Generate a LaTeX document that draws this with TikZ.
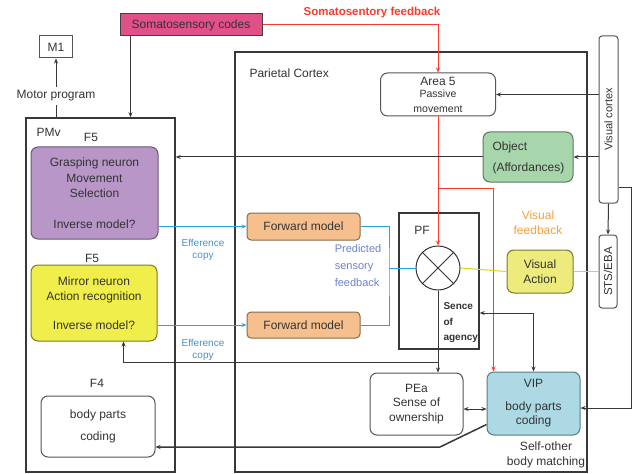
\documentclass[tikz,border=0pt]{standalone}
\usepackage{fontspec}
\setmainfont{Liberation Sans}
\usetikzlibrary{arrows.meta,calc}
\definecolor{txt}{HTML}{333333}
\definecolor{boxline}{HTML}{555555}
\definecolor{somafill}{HTML}{E2508A}
\definecolor{purplefill}{HTML}{B896C8}
\definecolor{purpleline}{HTML}{6A5A75}
\definecolor{yellowfill}{HTML}{F0EE4A}
\definecolor{yellowline}{HTML}{7A7A30}
\definecolor{greenfill}{HTML}{A8D6AC}
\definecolor{greenline}{HTML}{5B7A5B}
\definecolor{orangefill}{HTML}{F6C08E}
\definecolor{orangeline}{HTML}{8A6A4A}
\definecolor{vafill}{HTML}{ECEB7C}
\definecolor{vipfill}{HTML}{ACD9E3}
\definecolor{vipline}{HTML}{5A7A80}
\definecolor{redline}{HTML}{FF3A2A}
\definecolor{blueline}{HTML}{2AA2DD}
\definecolor{efftext}{HTML}{4A90D0}
\definecolor{predtext}{HTML}{6F80D0}
\definecolor{vftext}{HTML}{F5A040}
\definecolor{yline}{HTML}{D8D818}
\tikzset{
  every node/.style={font=\fontsize{12}{14.5}\selectfont, text=txt},
  rbox/.style={draw=boxline, line width=1pt, rounded corners=7pt, inner sep=1pt, align=center},
  sbox/.style={draw=boxline, line width=1pt, inner sep=1pt, align=center},
  frame/.style={draw=black!78, line width=1.4pt, inner sep=0pt},
  conn/.style={draw=black!78, line width=1pt},
  arr/.style={conn, -{Stealth[length=5pt,width=4pt]}},
  arrboth/.style={conn, {Stealth[length=5pt,width=4pt]}-{Stealth[length=5pt,width=4pt]}},
  redc/.style={draw=redline, line width=1pt},
  redarr/.style={redc, -{Stealth[length=5pt,width=4pt]}},
  bluec/.style={draw=blueline, line width=1pt},
  bluearr/.style={bluec, -{Stealth[length=5pt,width=4pt]}},
  yellowc/.style={draw=yline, line width=1pt},
  small/.style={font=\fontsize{10}{12}\selectfont},
}
\begin{document}
\begin{tikzpicture}[x=1pt,y=-1pt]
\fill[white] (0,0) rectangle (636,473);
\useasboundingbox (0,0) rectangle (636,473);

% frames
\node[frame, minimum width=149pt, minimum height=354pt] (pmv) at (100.5,295) {};
\node[frame, minimum width=352pt, minimum height=420pt] (par) at (411,262) {};
\node[anchor=west] (partxt) at (246,73) {Parietal Cortex};
\node[anchor=west] (pmvtxt) at (33,132) {PMv};

% top
\node[sbox, fill=somafill, draw=black!75, minimum width=142pt, minimum height=22pt] (soma) at (191,25) {Somatosensory codes};
\node[font=\bfseries\fontsize{11.5}{13}\selectfont, text=redline] (sfb) at (372,13) {Somatosentory feedback};
\node[sbox, minimum width=33pt, minimum height=22pt] (m1) at (56,47) {M1};
\node (mp) at (56,96) {Motor program};

% PMv content
\node (f5a) at (91,137) {F5};
\node[rbox, fill=purplefill, draw=purpleline, minimum width=127pt, minimum height=92pt, font=\fontsize{12}{15.5}\selectfont] (grasp) at (94.5,193)
  {Grasping neuron\\Movement\\Selection\\[15pt]Inverse model?};
\node (f5b) at (92,258) {F5};
\node[rbox, fill=yellowfill, draw=yellowline, minimum width=126pt, minimum height=76pt, font=\fontsize{12}{15}\selectfont] (mirror) at (94,303)
  {Mirror neuron\\Action recognition\\[14pt]Inverse model?};
\node (f4) at (97,383) {F4};
\node[rbox, minimum width=114pt, minimum height=61pt] (f4box) at (98,426.5) {body parts\\[7pt]coding};

% efference labels
\node[small, text=efftext, align=center] (eff1) at (203,250) {Efference\\copy};
\node[small, text=efftext, align=center] (eff2) at (203,350) {Efference\\copy};

% forward models
\node[rbox, rounded corners=4pt, fill=orangefill, draw=orangeline, minimum width=113pt, minimum height=27pt] (fm1) at (303.5,226.5) {Forward model};
\node[rbox, rounded corners=4pt, fill=orangefill, draw=orangeline, minimum width=113pt, minimum height=26pt] (fm2) at (303.5,325) {Forward model};
\node[text=predtext, align=left, font=\fontsize{11}{17}\selectfont] (pred) at (358,266) {Predicted\\sensory\\feedback};

% area 5
\node[rbox, minimum width=115pt, minimum height=43pt] (area5) at (438,94.5)
  {Area 5\\[-2pt]{\fontsize{10.5}{12}\selectfont Passive}\\[0pt]{\fontsize{10.5}{12}\selectfont movement}};

% right column
\node[sbox, rounded corners=3pt, minimum width=19pt, minimum height=167pt] (vc) at (608.5,119.5) {};
\node[rotate=90, font=\fontsize{11}{13}\selectfont] (vctxt) at (vc) {Visual cortex};
\node[sbox, rounded corners=3pt, minimum width=18pt, minimum height=73pt] (sts) at (608,271.5) {};
\node[rotate=90, font=\fontsize{11.5}{13}\selectfont] (ststxt) at (sts) {STS/EBA};

\node[rbox, fill=greenfill, draw=greenline, minimum width=90pt, minimum height=50pt] (obj) at (528,157) {};
\node[anchor=west, align=left] (objtxt) at (489,158) {Object\\[6pt](Affordances)};

\node[text=vftext, align=center, font=\fontsize{12}{15}\selectfont] (vfb) at (538,223) {Visual\\feedback};
\node[rbox, fill=vafill, draw=yellowline, minimum width=66pt, minimum height=43pt] (va) at (540,271.5) {Visual\\Action};

% PF
\node[frame, minimum width=80pt, minimum height=136pt] (pf) at (439,281) {};
\node (pftxt) at (422,230) {PF};
\node[circle, draw=black!80, line width=1pt, minimum size=44pt, inner sep=0pt] (cmp) at (438,268) {};
\draw[black!80, line width=1pt] (cmp.north west) -- (cmp.south east) (cmp.north east) -- (cmp.south west);
\node[anchor=west, align=left, font=\bfseries\fontsize{10}{15.5}\selectfont] (agency) at (440,323) {Sence\\of\\agency};

% PEa and VIP
\node[rbox, minimum width=93pt, minimum height=62pt] (pea) at (416.5,404) {PEa\\Sense of\\ownership};
\node[rbox, fill=vipfill, draw=vipline, minimum width=93pt, minimum height=63pt] (vip) at (533.5,403.5) {VIP\\[8pt]body parts\\coding};
\node[align=center] (selfo) at (546,455) {Self-other\\body matching};

% ---- connectors ----
\draw[arr] (mp.north) -- (m1.south);
\draw[conn] (pmv.north -| mp.south) -- (mp.south);
\draw[arr] ([xshift=11pt]soma.south west) -- ([xshift=11pt]soma.south west |- pmv.north);
\draw[redarr] (soma.east) -| (area5.north);
\draw[redarr] (area5.south) -- (cmp.north);
\coordinate (rb) at (438,188);
\draw[redarr] (rb) -| ([xshift=7pt]vip.north west);

\draw[arr] (vc.west |- area5.east) -- (area5.east);
\draw[arr] (vc.west |- obj.east) -- (obj.east);
\draw[arr] (obj.west) -- (obj.west -| pmv.east);
\draw[arr] (vc.south) -- (sts.north);

\draw[yellowc] (sts.west) -- (va.east);
\draw[yellowc] (va.west) -- (cmp.east);

\draw[bluearr] (fm1.west -| grasp.east) -- (fm1.west);
\draw[bluearr] (fm2.west -| mirror.east) -- (fm2.west);
\coordinate (bx) at (389,268);
\draw[bluec] (fm1.east) -| (bx) |- (fm2.east);
\draw[bluec] (bx) -- (cmp.west);

\coordinate (ag) at (438,362);
\draw[conn] (cmp.south) -- (ag);
\draw[arr] (ag) -| ([xshift=93pt]mirror.south west);
\draw[arr] (ag) -- (ag |- pea.north);

\coordinate (vq) at (533.5,313);
\draw[arrboth] (pf.east |- vq) -| (vip.north);
\draw[arrboth] ([yshift=-5pt]pea.east) -- ([yshift=-5pt]pea.east -| vip.west);

\coordinate (kk) at (440,447);
\draw[arr, line width=1.5pt] ([yshift=-21pt]vip.west) -- (kk) -- (kk -| f4box.east);

\coordinate (rr) at (631,187);
\draw[arr] (rr -| vc.east) -- (rr) |- ([yshift=-4.5pt]vip.east);
\end{tikzpicture}
\end{document}
